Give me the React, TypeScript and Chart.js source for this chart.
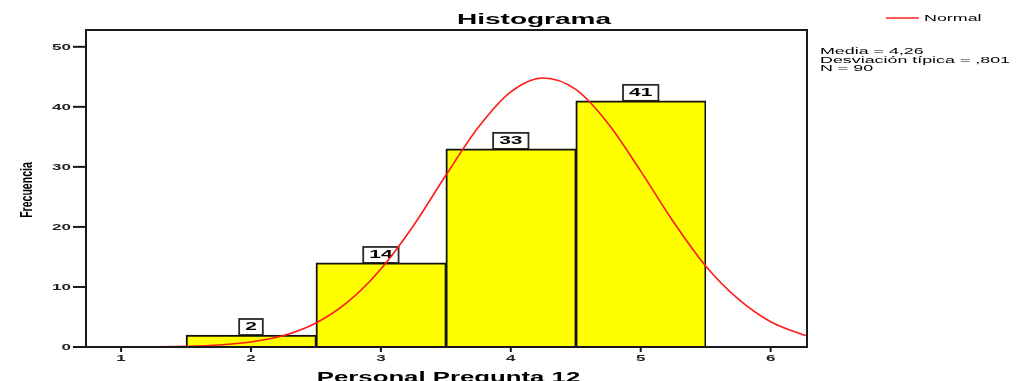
import React, { useEffect, useRef } from "react";
import { Chart, registerables } from "chart.js";

Chart.register(...registerables);

// ---- data ----
const binCenters = [2, 3, 4, 5];
const frequencies = [2, 14, 33, 41];
const xTickLabels = [1, 2, 3, 4, 5, 6];
const yTickLabels = [0, 10, 20, 30, 40, 50];
const curveX = [0.73, 1, 1.25, 1.5, 1.75, 2, 2.25, 2.5, 2.75, 3, 3.25, 3.5, 3.75, 4, 4.25, 4.5, 4.75, 5, 5.25, 5.5, 5.75, 6, 6.25, 6.28];
const curveY = [0.0, 0.01, 0.04, 0.12, 0.33, 0.84, 1.9, 4.0, 7.6, 13.0, 20.2, 28.6, 36.6, 42.5, 44.8, 42.9, 37.2, 29.3, 20.9, 13.5, 8.0, 4.2, 2.05, 1.85];
const titleText = "Histograma";
const xTitle = "Personal Pregunta 12";
const yTitle = "Frecuencia";
const legendLabel = "Normal";
const statsLines = ["Media = 4,26", "Desviación típica = ,801", "N = 90"];

const FAMILY = '"Liberation Sans", Arial, sans-serif';

function sText(
  ctx: CanvasRenderingContext2D,
  text: string,
  x: number,
  y: number,
  font: string,
  sx: number,
  align: CanvasTextAlign,
  baseline: CanvasTextBaseline,
  color = "#000"
) {
  ctx.save();
  ctx.font = font;
  ctx.fillStyle = color;
  ctx.textAlign = align;
  ctx.textBaseline = baseline;
  ctx.translate(x, y);
  ctx.scale(sx, 1);
  ctx.fillText(text, 0, 0);
  ctx.restore();
}

const decor = {
  id: "decor",
  beforeDatasetsDraw(chart: any) {
    const ctx: CanvasRenderingContext2D = chart.ctx;
    const meta = chart.getDatasetMeta(0);
    const font = `bold 10px ${FAMILY}`;
    const sx = 2.1;
    meta.data.forEach((el: any, i: number) => {
      const label = String(frequencies[i]);
      ctx.save();
      ctx.font = font;
      const w = ctx.measureText(label).width * sx + 12;
      const h = 16;
      const top = el.y - h;
      ctx.fillStyle = "#fff";
      ctx.strokeStyle = "#2a2a2a";
      ctx.lineWidth = 1.8;
      ctx.fillRect(el.x - w / 2, top, w, h);
      ctx.strokeRect(el.x - w / 2, top, w, h);
      ctx.restore();
      sText(ctx, label, el.x, top + h / 2 + 0.5, font, sx, "center", "middle");
    });
  },
  afterDatasetsDraw(chart: any) {
    const ctx: CanvasRenderingContext2D = chart.ctx;
    const a = chart.chartArea;
    const xs = chart.scales.x;
    const ys = chart.scales.y;
    // frame
    ctx.save();
    ctx.strokeStyle = "#1a1a1a";
    ctx.lineWidth = 2;
    ctx.strokeRect(a.left, a.top, a.right - a.left, a.bottom - a.top);
    // ticks
    yTickLabels.forEach((v) => {
      const py = ys.getPixelForValue(v);
      ctx.beginPath();
      ctx.moveTo(a.left - 13, py);
      ctx.lineTo(a.left, py);
      ctx.stroke();
    });
    xTickLabels.forEach((v) => {
      const px = xs.getPixelForValue(v);
      ctx.beginPath();
      ctx.moveTo(px, a.bottom);
      ctx.lineTo(px, a.bottom + 5);
      ctx.stroke();
    });
    ctx.restore();
    const tickFont = `bold 8.5px ${FAMILY}`;
    yTickLabels.forEach((v) => {
      const py = ys.getPixelForValue(v);
      sText(ctx, String(v), a.left - 15, py + 3, tickFont, 2.0, "right", "alphabetic", "#222");
    });
    xTickLabels.forEach((v) => {
      const px = xs.getPixelForValue(v);
      sText(ctx, String(v), px, 361, tickFont, 2.0, "center", "alphabetic", "#222");
    });
    // title
    sText(ctx, titleText, 534, 24, `bold 14px ${FAMILY}`, 2.0, "center", "alphabetic");
    // x title
    sText(ctx, xTitle, 448.5, 382, `bold 14px ${FAMILY}`, 1.84, "center", "alphabetic");
    // y title
    ctx.save();
    ctx.font = `bold 17px ${FAMILY}`;
    ctx.fillStyle = "#000";
    ctx.textAlign = "center";
    ctx.textBaseline = "alphabetic";
    ctx.translate(32, 190);
    ctx.rotate(-Math.PI / 2);
    ctx.scale(0.62, 1);
    ctx.fillText(yTitle, 0, 0);
    ctx.restore();
    // legend
    ctx.save();
    ctx.strokeStyle = "#ff2020";
    ctx.lineWidth = 1.5;
    ctx.beginPath();
    ctx.moveTo(886, 18);
    ctx.lineTo(919, 18);
    ctx.stroke();
    ctx.restore();
    const smallFont = `8.5px ${FAMILY}`;
    sText(ctx, legendLabel, 924, 21, smallFont, 2.1, "left", "alphabetic");
    const baselines = [54, 62.5, 71];
    statsLines.forEach((s, i) => {
      sText(ctx, s, 820, baselines[i], smallFont, 2.1, "left", "alphabetic");
    });
  },
};

export default function App() {
  const ref = useRef<HTMLCanvasElement | null>(null);
  useEffect(() => {
    if (!ref.current) return;
    const chart = new Chart(ref.current, {
      type: "bar",
      data: {
        datasets: [
          {
            type: "bar",
            label: "Frecuencia",
            data: binCenters.map((x, i) => ({ x, y: frequencies[i] })),
            backgroundColor: "#ffff00",
            borderColor: "#111",
            borderWidth: { top: 2, left: 2, right: 1.5, bottom: 0 } as any,
            borderSkipped: false,
            barPercentage: 1,
            categoryPercentage: 1,
            order: 2,
          },
          {
            type: "line",
            label: legendLabel,
            data: curveX.map((x, i) => ({ x, y: curveY[i] })),
            borderColor: "#ff1a1a",
            borderWidth: 1.6,
            pointRadius: 0,
            fill: false,
            cubicInterpolationMode: "monotone",
            order: 1,
          } as any,
        ],
      },
      options: {
        animation: false,
        responsive: false,
        devicePixelRatio: 1,
        layout: { padding: { left: 86, top: 30, right: 211, bottom: 34 } },
        plugins: { legend: { display: false }, title: { display: false }, tooltip: { enabled: false } },
        scales: {
          x: {
            type: "linear",
            display: false,
            min: 0.73,
            max: 6.28,
            offset: false,
            afterBuildTicks: (s: any) => {
              s.ticks = xTickLabels.map((v) => ({ value: v }));
            },
          },
          y: {
            type: "linear",
            display: false,
            min: 0,
            max: 52.8,
            afterBuildTicks: (s: any) => {
              s.ticks = yTickLabels.map((v) => ({ value: v }));
            },
          },
        },
      },
      plugins: [decor],
    });
    return () => chart.destroy();
  }, []);
  return (
    <div style={{ position: "fixed", left: 0, top: 0, width: 1018, height: 381, background: "#fff" }}>
      <canvas ref={ref} width={1018} height={381} />
    </div>
  );
}
